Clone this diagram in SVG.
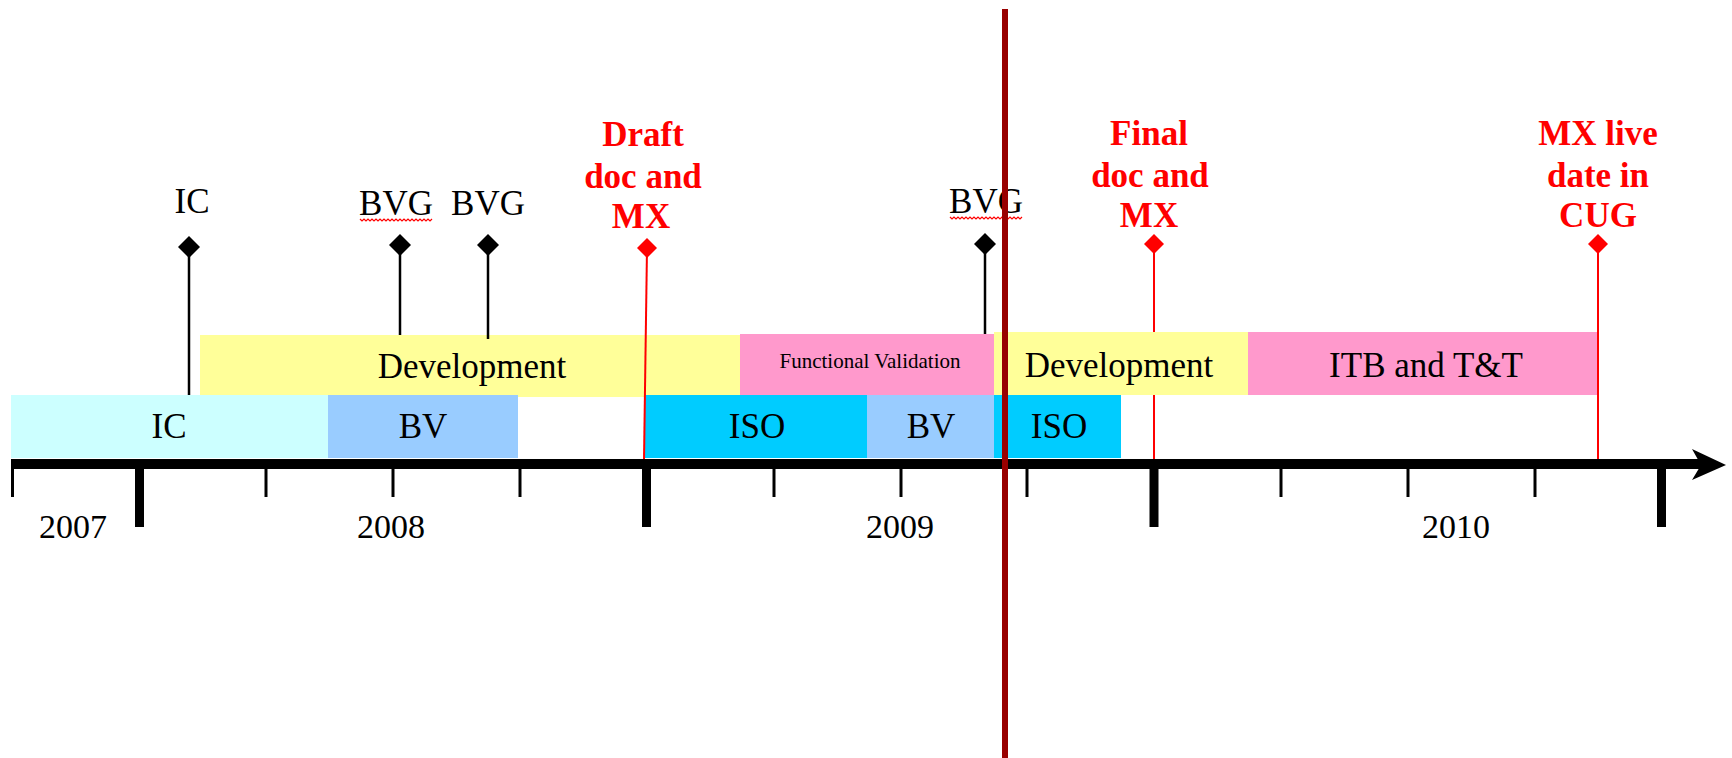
<svg xmlns="http://www.w3.org/2000/svg" width="1732" height="758" viewBox="0 0 1732 758">
<defs>
<style>
.lbl{font-family:"Liberation Serif","Times New Roman",serif;font-size:35px;fill:#000;text-anchor:middle}
.red{font-family:"Liberation Serif","Times New Roman",serif;font-size:35px;font-weight:bold;fill:#FF0000;text-anchor:middle}
.yr{font-family:"Liberation Serif","Times New Roman",serif;font-size:34px;fill:#000;text-anchor:middle}
.fv{font-family:"Liberation Serif","Times New Roman",serif;font-size:21px;fill:#000;text-anchor:middle}
.stem{stroke:#000;stroke-width:2.5;fill:none}
.rstem{stroke:#FF0000;stroke-width:2;fill:none}
.dia{fill:#000}
.rdia{fill:#FF0000}
.minor{stroke:#000;stroke-width:3}
.major{stroke:#000;stroke-width:9}
.squig{stroke:#FF0000;stroke-width:1.2;fill:none;stroke-dasharray:none}
.c-ic{fill:#CCFFFF}
.c-bv{fill:#99CCFF}
.c-iso{fill:#00CCFF}
.c-dev{fill:#FFFF99}
.c-pink{fill:#FF99CC}
</style>
</defs>
<rect width="1732" height="758" fill="#FFFFFF"/>

<!-- stems hidden behind bars -->
<g id="connectors-back">
<line class="rstem" x1="1154" y1="244" x2="1154" y2="460"/>
</g>

<!-- upper bar row -->
<g id="bar-development-1"><rect class="c-dev" x="200" y="335" width="540" height="62"/><text class="lbl" x="472" y="378">Development</text></g>
<g id="bar-functional-validation"><rect class="c-pink" x="740" y="334" width="254" height="61"/><text class="fv" x="870" y="368">Functional Validation</text></g>
<g id="bar-development-2"><rect class="c-dev" x="994" y="332" width="254" height="63"/><text class="lbl" x="1119" y="377">Development</text></g>
<g id="bar-itb"><rect class="c-pink" x="1248" y="332" width="349" height="63"/><text class="lbl" x="1426" y="377">ITB and T&amp;T</text></g>

<!-- lower bar row -->
<g id="bar-ic"><rect class="c-ic" x="11" y="395" width="317" height="63"/><text class="lbl" x="169" y="438">IC</text></g>
<g id="bar-bv-1"><rect class="c-bv" x="328" y="395" width="190" height="63"/><text class="lbl" x="423" y="438">BV</text></g>
<g id="bar-iso-1"><rect class="c-iso" x="645" y="395" width="222" height="63"/><text class="lbl" x="757" y="438">ISO</text></g>
<g id="bar-bv-2"><rect class="c-bv" x="867" y="395" width="127" height="63"/><text class="lbl" x="931" y="438">BV</text></g>
<g id="bar-iso-2"><rect class="c-iso" x="994" y="395" width="127" height="63"/><text class="lbl" x="1059" y="438">ISO</text></g>

<!-- milestone stems -->
<g id="connectors">
<line class="stem" x1="189" y1="247" x2="189" y2="395"/>
<line class="stem" x1="400" y1="245" x2="400" y2="335"/>
<line class="stem" x1="488" y1="245" x2="488" y2="339"/>
<line class="stem" x1="985" y1="244" x2="985" y2="334"/>
<line class="rstem" x1="647" y1="248" x2="644" y2="460"/>
<line class="rstem" x1="1598" y1="244" x2="1598" y2="460"/>
</g>

<!-- milestones -->
<g id="ms-ic"><path class="dia" d="M189,236 L200,247 L189,258 L178,247 Z"/><text class="lbl" x="192" y="213">IC</text></g>
<g id="ms-bvg-1"><path class="dia" d="M400,234 L411,245 L400,256 L389,245 Z"/><text class="lbl" x="396" y="215">BVG</text>
<path class="squig" d="M360,219 l2,2 l2,-2 l2,2 l2,-2 l2,2 l2,-2 l2,2 l2,-2 l2,2 l2,-2 l2,2 l2,-2 l2,2 l2,-2 l2,2 l2,-2 l2,2 l2,-2 l2,2 l2,-2 l2,2 l2,-2 l2,2 l2,-2 l2,2 l2,-2 l2,2 l2,-2 l2,2 l2,-2 l2,2 l2,-2 l2,2 l2,-2 l2,2 l2,-2"/></g>
<g id="ms-bvg-2"><path class="dia" d="M488,234 L499,245 L488,256 L477,245 Z"/><text class="lbl" x="488" y="215">BVG</text></g>
<g id="ms-draft"><path class="rdia" d="M647,238 L657,248 L647,258 L637,248 Z"/>
<text class="red" x="643" y="146">Draft</text><text class="red" x="643" y="188">doc and</text><text class="red" x="641" y="228">MX</text></g>
<g id="ms-bvg-3"><path class="dia" d="M985,233 L996,244 L985,255 L974,244 Z"/><text class="lbl" x="986" y="213">BVG</text>
<path class="squig" d="M950,217 l2,2 l2,-2 l2,2 l2,-2 l2,2 l2,-2 l2,2 l2,-2 l2,2 l2,-2 l2,2 l2,-2 l2,2 l2,-2 l2,2 l2,-2 l2,2 l2,-2 l2,2 l2,-2 l2,2 l2,-2 l2,2 l2,-2 l2,2 l2,-2 l2,2 l2,-2 l2,2 l2,-2 l2,2 l2,-2 l2,2 l2,-2 l2,2 l2,-2"/></g>
<g id="ms-final"><path class="rdia" d="M1154,234 L1164,244 L1154,254 L1144,244 Z"/>
<text class="red" x="1149" y="145">Final</text><text class="red" x="1150" y="187">doc and</text><text class="red" x="1149" y="227">MX</text></g>
<g id="ms-live"><path class="rdia" d="M1598,234 L1608,244 L1598,254 L1588,244 Z"/>
<text class="red" x="1598" y="145">MX live</text><text class="red" x="1598" y="187">date in</text><text class="red" x="1598" y="227">CUG</text></g>

<!-- timeline axis -->
<g id="axis">
<line x1="11" y1="464" x2="1702" y2="464" stroke="#000" stroke-width="10"/>
<path d="M1726,465 L1692,449 L1701,465 L1692,480 Z" fill="#000"/>
<line class="minor" x1="12.5" y1="464" x2="12.5" y2="497"/>
<line class="minor" x1="266" y1="464" x2="266" y2="497"/>
<line class="minor" x1="393" y1="464" x2="393" y2="497"/>
<line class="minor" x1="520" y1="464" x2="520" y2="497"/>
<line class="minor" x1="774" y1="464" x2="774" y2="497"/>
<line class="minor" x1="901" y1="464" x2="901" y2="497"/>
<line class="minor" x1="1027" y1="464" x2="1027" y2="497"/>
<line class="minor" x1="1281" y1="464" x2="1281" y2="497"/>
<line class="minor" x1="1408" y1="464" x2="1408" y2="497"/>
<line class="minor" x1="1535" y1="464" x2="1535" y2="497"/>
<line class="major" x1="139.5" y1="464" x2="139.5" y2="527"/>
<line class="major" x1="646.5" y1="464" x2="646.5" y2="527"/>
<line class="major" x1="1154" y1="464" x2="1154" y2="527"/>
<line class="major" x1="1661.5" y1="464" x2="1661.5" y2="527"/>
<text class="yr" x="73" y="538">2007</text>
<text class="yr" x="391" y="538">2008</text>
<text class="yr" x="900" y="538">2009</text>
<text class="yr" x="1456" y="538">2010</text>
</g>

<!-- today marker -->
<g id="today-line">
<line x1="1005" y1="9" x2="1005" y2="758" stroke="#990000" stroke-width="6"/>
</g>
</svg>
